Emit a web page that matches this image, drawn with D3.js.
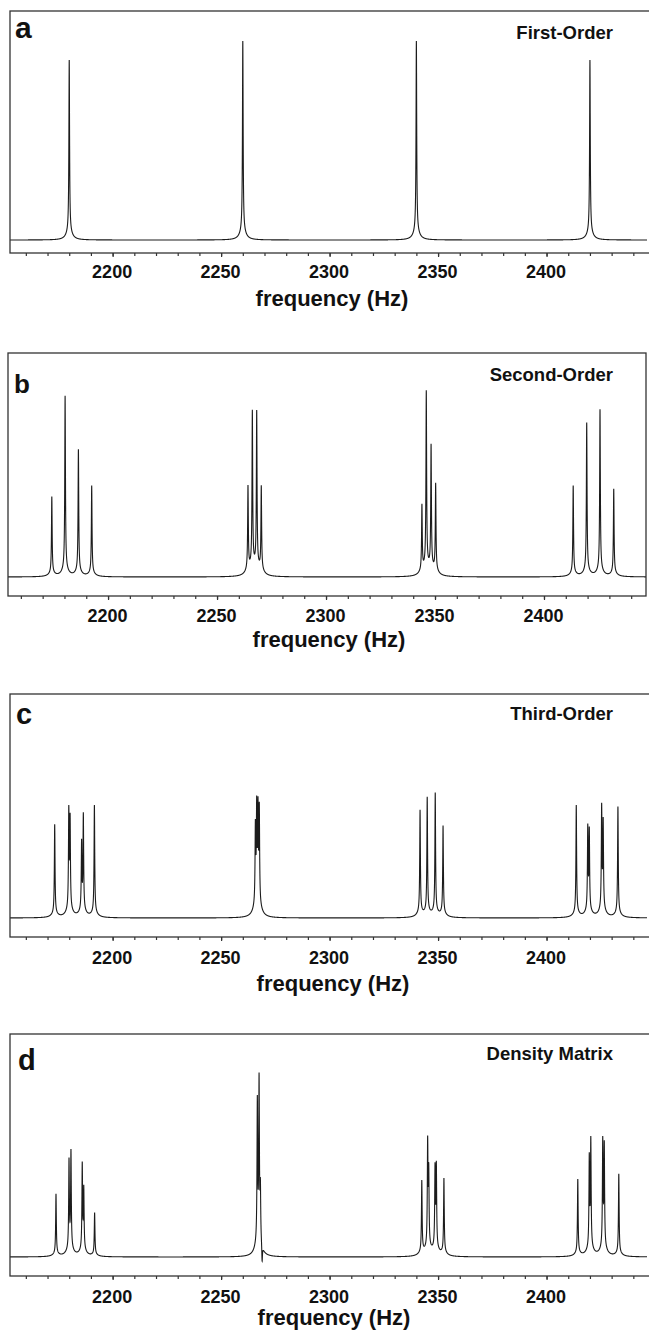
<!DOCTYPE html>
<html>
<head>
<meta charset="utf-8">
<script src="https://cdn.jsdelivr.net/npm/d3@7"></script>
<style>
  body { margin: 0; background: #fff; }
  svg { display: block; font-family: "Liberation Sans", Arial, sans-serif; font-weight: bold; }
  .box { fill: none; stroke: #333; stroke-width: 1.3; }
  .spectrum { fill: none; stroke: #1c1c1c; stroke-width: 1.1; }
  .tick line { stroke: #333; stroke-width: 1.2; }
  .tick text { font-size: 18px; fill: #111; }
</style>
</head>
<body>
<div id="chart"></div>
<script>
// Peak lists (frequency in Hz, relative peak amplitude)
const firstOrderFreq = [2180, 2260, 2340, 2420];
const firstOrderAmp  = [0.786, 0.869, 0.869, 0.786];

const secondOrderFreq = [2174.2, 2180.3, 2186.4, 2192.5, 2264.2, 2266.2, 2268.2, 2270.3,
                         2344.0, 2346.0, 2348.2, 2350.3, 2413.4, 2419.6, 2425.7, 2432.0];
const secondOrderAmp  = [0.355, 0.805, 0.565, 0.405, 0.385, 0.715, 0.715, 0.385,
                         0.30, 0.81, 0.565, 0.40, 0.405, 0.685, 0.745, 0.39];

const thirdOrderFreq = [2173.3, 2179.8, 2180.4, 2185.7, 2186.5, 2191.6, 2265.8, 2266.4, 2267.0, 2267.6,
                        2341.7, 2345.0, 2348.7, 2352.3, 2413.7, 2419.0, 2419.7, 2425.4, 2426.1, 2432.9];
const thirdOrderAmp  = [0.415, 0.45, 0.41, 0.31, 0.44, 0.50, 0.355, 0.43, 0.42, 0.435,
                        0.475, 0.53, 0.55, 0.405, 0.50, 0.38, 0.365, 0.47, 0.40, 0.495];

const densityFreq = [2173.9, 2179.9, 2180.8, 2186.0, 2186.7, 2191.7, 2266.7, 2267.5, 2268.1, 2268.9,
                     2342.5, 2345.2, 2345.7, 2348.6, 2349.2, 2352.7, 2414.4, 2419.7, 2420.4, 2425.9, 2426.6, 2433.3];
const densityAmp  = [0.28, 0.41, 0.45, 0.395, 0.28, 0.195, 0.655, 0.745, 0.245, -0.085,
                     0.33, 0.48, 0.335, 0.365, 0.375, 0.345, 0.345, 0.415, 0.495, 0.49, 0.47, 0.37];

const panelLetters = ['a', 'b', 'c', 'd'];
const panelTitles = ['First-Order', 'Second-Order', 'Third-Order', 'Density Matrix'];
const majorTicks = [2200, 2250, 2300, 2350, 2400];
const minorTicks = d3.range(2160, 2441, 10);
const axisTitle = 'frequency (Hz)';

// line shape: sharp Lorentzian on a small broad foot (half widths in Hz)
const narrowWidth = 0.18, broadWidth = 1.5, broadShare = 0.05;

// Layout of each panel (pixels)
const layout = [
  { top: 11,  bottom: 253,  zero: 240,  left: 10, right: 651, xRange: [10, 647], xDomain: [2152.7, 2446.3],
    letterX: 15, letterY: 38,   letterSize: 30, titleY: 39,   tickLabelDy: 25, axisTitleX: 332, axisTitleY: 306 },
  { top: 353, bottom: 596,  zero: 577,  left: 8,  right: 646, xRange: [8, 646],  xDomain: [2154.1, 2446.8],
    letterX: 14, letterY: 393,  letterSize: 26, titleY: 381,  tickLabelDy: 26, axisTitleX: 329, axisTitleY: 647 },
  { top: 694, bottom: 937,  zero: 918,  left: 10, right: 651, xRange: [10, 647], xDomain: [2152.7, 2446.3],
    letterX: 16, letterY: 724,  letterSize: 29, titleY: 720,  tickLabelDy: 27, axisTitleX: 333, axisTitleY: 991 },
  { top: 1034, bottom: 1276, zero: 1257, left: 10, right: 651, xRange: [10, 647], xDomain: [2152.7, 2446.3],
    letterX: 18, letterY: 1070, letterSize: 29, titleY: 1060, tickLabelDy: 27, axisTitleX: 334, axisTitleY: 1325 }
];

const spectra = [
  { freq: firstOrderFreq, amp: firstOrderAmp },
  { freq: secondOrderFreq, amp: secondOrderAmp },
  { freq: thirdOrderFreq, amp: thirdOrderAmp },
  { freq: densityFreq, amp: densityAmp }
];

function lineShape(df) {
  const n = df / narrowWidth, b = df / broadWidth;
  return (1 - broadShare) / (1 + n * n) + broadShare / (1 + b * b);
}

const width = 649, height = 1335;

const svg = d3.select('#chart')
  .append('svg')
  .attr('width', width)
  .attr('height', height);

spectra.forEach((s, i) => {
  const L = layout[i];

  const x = d3.scaleLinear().domain(L.xDomain).range(L.xRange);
  const y = d3.scaleLinear().domain([0, 1]).range([L.zero, L.top]);

  const g = svg.append('g').attr('class', 'panel');

  // clip to the frame
  svg.append('clipPath')
    .attr('id', 'clip' + i)
    .append('rect')
    .attr('x', L.left)
    .attr('y', L.top)
    .attr('width', L.right - L.left)
    .attr('height', L.bottom - L.top);

  // sample the line shape; include the line centres so each apex is hit exactly
  const grid = d3.range(L.xDomain[0], L.xDomain[1], 0.02).concat(s.freq).sort((a, b) => a - b);
  const points = grid.map(f => {
    let v = 0;
    s.freq.forEach((f0, k) => { v += s.amp[k] * lineShape(f - f0); });
    return { f: f, v: v };
  });

  const line = d3.line()
    .x(d => x(d.f))
    .y(d => y(d.v));

  g.append('path')
    .datum(points)
    .attr('class', 'spectrum')
    .attr('clip-path', `url(#clip${i})`)
    .attr('d', line);

  // frame
  g.append('rect')
    .attr('class', 'box')
    .attr('x', L.left)
    .attr('y', L.top)
    .attr('width', L.right - L.left)
    .attr('height', L.bottom - L.top);

  // minor ticks
  g.append('g')
    .attr('transform', `translate(0,${L.bottom})`)
    .call(d3.axisBottom(x).tickValues(minorTicks).tickSize(3).tickFormat(''))
    .call(a => a.select('.domain').remove());

  // major ticks with labels
  g.append('g')
    .attr('transform', `translate(0,${L.bottom})`)
    .call(d3.axisBottom(x).tickValues(majorTicks).tickSize(4).tickFormat(d3.format('d')))
    .call(a => a.select('.domain').remove())
    .call(a => a.selectAll('text')
      .attr('y', L.tickLabelDy)
      .attr('dy', 0)
      .attr('dx', -1)
      .attr('font-family', null)
      .attr('font-size', null));

  // axis title
  g.append('text')
    .attr('x', L.axisTitleX)
    .attr('y', L.axisTitleY)
    .attr('text-anchor', 'middle')
    .style('font-size', '22px')
    .style('fill', '#111')
    .text(axisTitle);

  // panel letter
  g.append('text')
    .attr('x', L.letterX)
    .attr('y', L.letterY)
    .style('font-size', L.letterSize + 'px')
    .style('fill', '#111')
    .text(panelLetters[i]);

  // panel title
  g.append('text')
    .attr('x', 613)
    .attr('y', L.titleY)
    .attr('text-anchor', 'end')
    .style('font-size', '18.5px')
    .style('fill', '#111')
    .text(panelTitles[i]);
});
</script>
</body>
</html>
